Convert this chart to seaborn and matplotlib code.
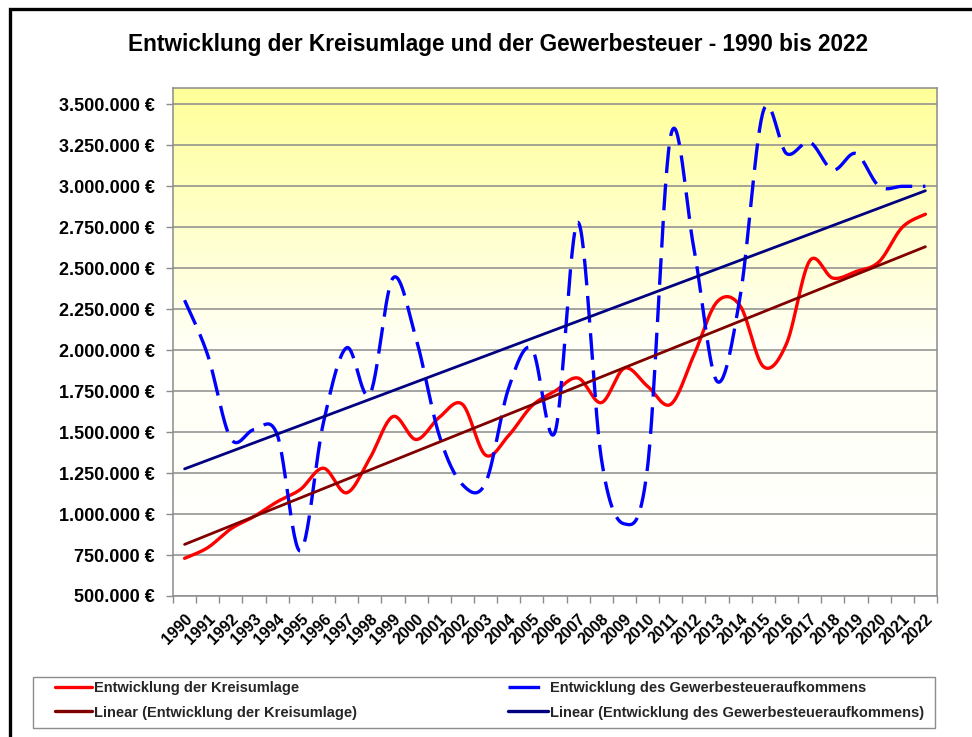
import numpy as np
import pandas as pd
import matplotlib
matplotlib.use("Agg")
import matplotlib.pyplot as plt
import seaborn as sns
from matplotlib.lines import Line2D
from matplotlib.patches import Rectangle
from matplotlib.colors import LinearSegmentedColormap
from matplotlib.ticker import FuncFormatter, FixedLocator

# ---------------- data ----------------
years = [str(y) for y in range(1990, 2023)]
kreisumlage = [730000, 795000, 910000, 985000, 1075000, 1150000, 1280000, 1130000,
               1340000, 1595000, 1455000, 1590000, 1670000, 1360000, 1480000, 1660000,
               1750000, 1830000, 1680000, 1890000, 1780000, 1670000, 1970000, 2295000,
               2270000, 1900000, 2040000, 2545000, 2440000, 2480000, 2540000, 2750000,
               2830000]
gewerbesteuer = [2305000, 1970000, 1460000, 1515000, 1485000, 775000, 1560000, 2015000,
                 1730000, 2440000, 2070000, 1480000, 1180000, 1190000, 1770000, 2010000,
                 1500000, 2780000, 1340000, 940000, 1290000, 3310000, 2620000, 1810000,
                 2330000, 3460000, 3200000, 3270000, 3100000, 3200000, 3000000, 3000000,
                 3000000]
y_ticks = [500000 + 250000 * k for k in range(13)]

title = "Entwicklung der Kreisumlage und der Gewerbesteuer - 1990 bis 2022"
lbl_kreis = "Entwicklung der Kreisumlage"
lbl_gew = "Entwicklung des Gewerbesteueraufkommens"
lbl_kreis_lin = "Linear (Entwicklung der Kreisumlage)"
lbl_gew_lin = "Linear (Entwicklung des Gewerbesteueraufkommens)"

df = pd.DataFrame({"idx": np.arange(len(years)), "year": years,
                   "kreis": kreisumlage, "gew": gewerbesteuer})

# ---------------- style ----------------
sns.set_theme(style="white")
plt.rcParams['font.family'] = ['Liberation Sans', 'DejaVu Sans']

RED = "#FF0000"
BLUE = "#0000FF"
DRED = "#800000"
NAVY = "#000080"
GRID = "#8C8C8C"


def smooth_curve(xv, yv, n=30):
    """Excel-like smoothed line (Catmull-Rom Bezier) for drawing."""
    p = np.column_stack([np.asarray(xv, float), np.asarray(yv, float)])
    ext = np.vstack([p[0], p, p[-1]])
    t = np.linspace(0, 1, n, endpoint=False)[:, None]
    segs = []
    for i in range(len(p) - 1):
        p0, p1, p2, p3 = ext[i], ext[i + 1], ext[i + 2], ext[i + 3]
        c1 = p1 + (p2 - p0) / 6.0
        c2 = p2 - (p3 - p1) / 6.0
        b = ((1 - t) ** 3) * p1 + 3 * ((1 - t) ** 2) * t * c1 + 3 * (1 - t) * t ** 2 * c2 + t ** 3 * p2
        segs.append(b)
    segs.append(p[-1][None, :])
    s = np.vstack(segs)
    return s[:, 0], s[:, 1]


W, H = 972, 737
fig = plt.figure(figsize=(W / 100, H / 100), dpi=100)
fig.patch.set_facecolor("white")

ax = fig.add_axes([173 / W, 1 - 596 / H, (937 - 173) / W, (596 - 88) / H])

x0, x1 = -0.5, len(years) - 0.5
y0, y1 = 500000, 3600000

# gradient background
cmap = LinearSegmentedColormap.from_list("bg", ["#FFFFFF", "#FFFFF5", "#FFFF99"])
grad = np.linspace(0, 1, 256)[:, None]
ax.imshow(grad, extent=[x0, x1, y0, y1], origin="lower", aspect="auto",
          cmap=cmap, zorder=0, interpolation="bilinear")

# smoothed series
sx, sy = smooth_curve(df["idx"], df["kreis"])
sns.lineplot(x=sx, y=sy, sort=False, estimator=None, ax=ax, color=RED, lw=2.4,
             solid_capstyle="round", zorder=3)
gx, gy = smooth_curve(df["idx"], df["gew"])
sns.lineplot(x=gx, y=gy, sort=False, estimator=None, ax=ax, color=BLUE, lw=2.4,
             linestyle=(0, (8, 3.2)), zorder=3)

# linear trend lines
sns.regplot(data=df, x="idx", y="kreis", scatter=False, ci=None, truncate=True, ax=ax,
            line_kws=dict(color=DRED, lw=2.0, zorder=4))
sns.regplot(data=df, x="idx", y="gew", scatter=False, ci=None, truncate=True, ax=ax,
            line_kws=dict(color=NAVY, lw=2.0, zorder=4))

ax.set_xlim(x0, x1)
ax.set_ylim(y0, y1)
ax.set_xlabel("")
ax.set_ylabel("")

# y axis
ax.set_yticks(y_ticks)
ax.yaxis.set_major_formatter(FuncFormatter(lambda v, p: f"{int(round(v)):,}".replace(",", ".") + " €"))
ax.yaxis.grid(True, color=GRID, lw=1.1)
ax.xaxis.grid(False)
ax.set_axisbelow(True)
for lab in ax.get_yticklabels():
    lab.set_fontweight("bold")
ax.tick_params(axis="y", which="major", left=True, length=5, width=1, color=GRID,
               labelsize=13, pad=8, labelcolor="black")

# x axis: labels at category centres, tick marks at boundaries
ax.set_xticks(np.arange(len(years)))
ax.set_xticklabels(years, rotation=45, ha="right", va="top", rotation_mode="anchor",
                   fontweight="bold", fontsize=11.5)
ax.xaxis.set_minor_locator(FixedLocator(np.arange(len(years) + 1) - 0.5))
ax.tick_params(axis="x", which="major", bottom=True, length=0, pad=11, labelcolor="black")
ax.tick_params(axis="x", which="minor", bottom=True, length=5, width=1, color=GRID)

for sp in ax.spines.values():
    sp.set_visible(True)
    sp.set_color(GRID)
    sp.set_linewidth(1.1)

# title
fig.text(498 / W, 1 - 45 / H, title, ha="center", va="center",
         fontsize=16.3, fontweight="bold", color="black")

# legend frame
fig.add_artist(Rectangle((33 / W, 1 - 728 / H), (935 - 33) / W, (728 - 677) / H,
                         transform=fig.transFigure, fill=False, edgecolor=GRID, lw=1.0))

h_red = Line2D([], [], color=RED, lw=2.4)
h_dred = Line2D([], [], color=DRED, lw=2.4)
h_blue = Line2D([], [], color=BLUE, lw=2.4, linestyle=(0, (9.5, 6)))
h_navy = Line2D([], [], color=NAVY, lw=2.4)
leg_kw = dict(frameon=False, loc="upper left", borderpad=0, borderaxespad=0,
              handlelength=2.55, handletextpad=0.1, labelspacing=0.72,
              prop=dict(weight="bold", size=10.5))
fig.legend([h_red, h_dred], [lbl_kreis, lbl_kreis_lin],
           bbox_to_anchor=(55 / W, 1 - 681 / H), **leg_kw)
leg_kw2 = dict(leg_kw)
leg_kw2["handlelength"] = 2.75
fig.legend([h_blue, h_navy], [lbl_gew, lbl_gew_lin],
           bbox_to_anchor=(508 / W, 1 - 681 / H), **leg_kw2)

# outer frame (partially cropped like the reference)
fig.add_artist(Rectangle((10 / W, -0.2), 1.2, 1 - 9 / H + 0.2, transform=fig.transFigure,
                         fill=False, edgecolor="black", lw=2.4, clip_on=False))

fig.savefig("out.png", dpi=100)
